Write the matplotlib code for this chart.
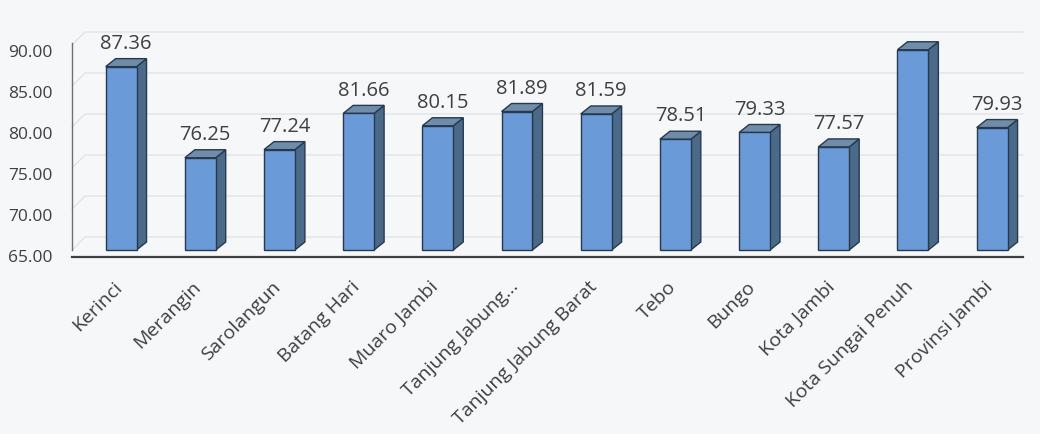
import numpy as np
import matplotlib.pyplot as plt
from matplotlib.patches import Polygon

plt.rcParams['font.family'] = ['Open Sans', 'DejaVu Sans']

# data
kabupaten = ['Kerinci', 'Merangin', 'Sarolangun', 'Batang Hari', 'Muaro Jambi',
             'Tanjung Jabung...', 'Tanjung Jabung Barat', 'Tebo', 'Bungo',
             'Kota Jambi', 'Kota Sungai Penuh', 'Provinsi Jambi']
nilai = [87.36, 76.25, 77.24, 81.66, 80.15, 81.89, 81.59, 78.51, 79.33, 77.57, 89.42, 79.93]
yticks = [65, 70, 75, 80, 85, 90]

bg = '#f6f7f9'
front = '#6a9ad8'
side = '#4b6a8a'
top = '#6f8dab'
edge = '#27394d'
txt = '#3f3f3f'

fig = plt.figure(figsize=(10.4, 4.34), dpi=100, facecolor=bg)
ax = fig.add_axes([72/1040, 184/434, 951/1040, 205/434])
ax.set_facecolor(bg)

x = np.arange(len(nilai))
w = 0.39
xmin, xmax = -0.62, 11.39
ymin, ymax = 65, 90
ax.set_xlim(xmin, xmax)
ax.set_ylim(ymin, ymax)

# pixel -> data conversion for the fake 3D depth
ppx = 951 / (xmax - xmin)
ppy = 205 / (ymax - ymin)
dx, dy = 10 / ppx, 8 / ppy
gx, gy = 13 / ppx, 13 / ppy

# back wall gridlines
for t in yticks:
    ax.plot([xmin, xmin + gx, xmax], [t, t + gy, t + gy], color='#e0e1e4', lw=0.9,
            zorder=0, clip_on=False)

ax.bar(x, [v - ymin for v in nilai], w, bottom=ymin, color=front, edgecolor=edge,
       lw=1.0, zorder=3, clip_on=False)

for xi, v in zip(x, nilai):
    xl, xr = xi - w / 2, xi + w / 2
    ax.add_patch(Polygon([(xr, ymin), (xr, v), (xr + dx, v + dy), (xr + dx, ymin + dy)],
                         closed=True, fc=side, ec=edge, lw=1.0, zorder=2, clip_on=False))
    ax.add_patch(Polygon([(xl, v), (xr, v), (xr + dx, v + dy), (xl + dx, v + dy)],
                         closed=True, fc=top, ec=edge, lw=1.0, zorder=2, clip_on=False))
    ax.annotate(f'{v:.2f}', (xi + dx / 2, v + dy), xytext=(0, 3.5), textcoords='offset points',
                ha='center', va='bottom', fontsize=14.5, color=txt, clip_on=False)

# rotated category labels
ax.set_xticks(x)
ax.set_xticklabels([])
ax.tick_params(axis='x', length=0)
for xi, lab in zip(x, kabupaten):
    ax.annotate(lab, (xi, 0), xycoords=('data', 'axes fraction'), xytext=(-6, -20),
                textcoords='offset points', rotation=45, rotation_mode='anchor',
                ha='right', va='top', fontsize=14, color=txt, annotation_clip=False)

ax.tick_params(axis='y', length=0, pad=14)
ax.set_yticks(yticks)
ax.set_yticklabels([f'{t:.2f}' for t in yticks], fontsize=12.5, color=txt, va='top')

for s in ['top', 'right']:
    ax.spines[s].set_visible(False)
ax.spines['bottom'].set_position(('outward', 5))
ax.spines['bottom'].set_color('#404040')
ax.spines['bottom'].set_linewidth(1.6)
ax.spines['left'].set_color('#707070')
ax.spines['left'].set_linewidth(1.0)
ax.spines['left'].set_bounds(ymin, ymax + 0.3)

fig.savefig('out.png', dpi=100, facecolor=bg)
